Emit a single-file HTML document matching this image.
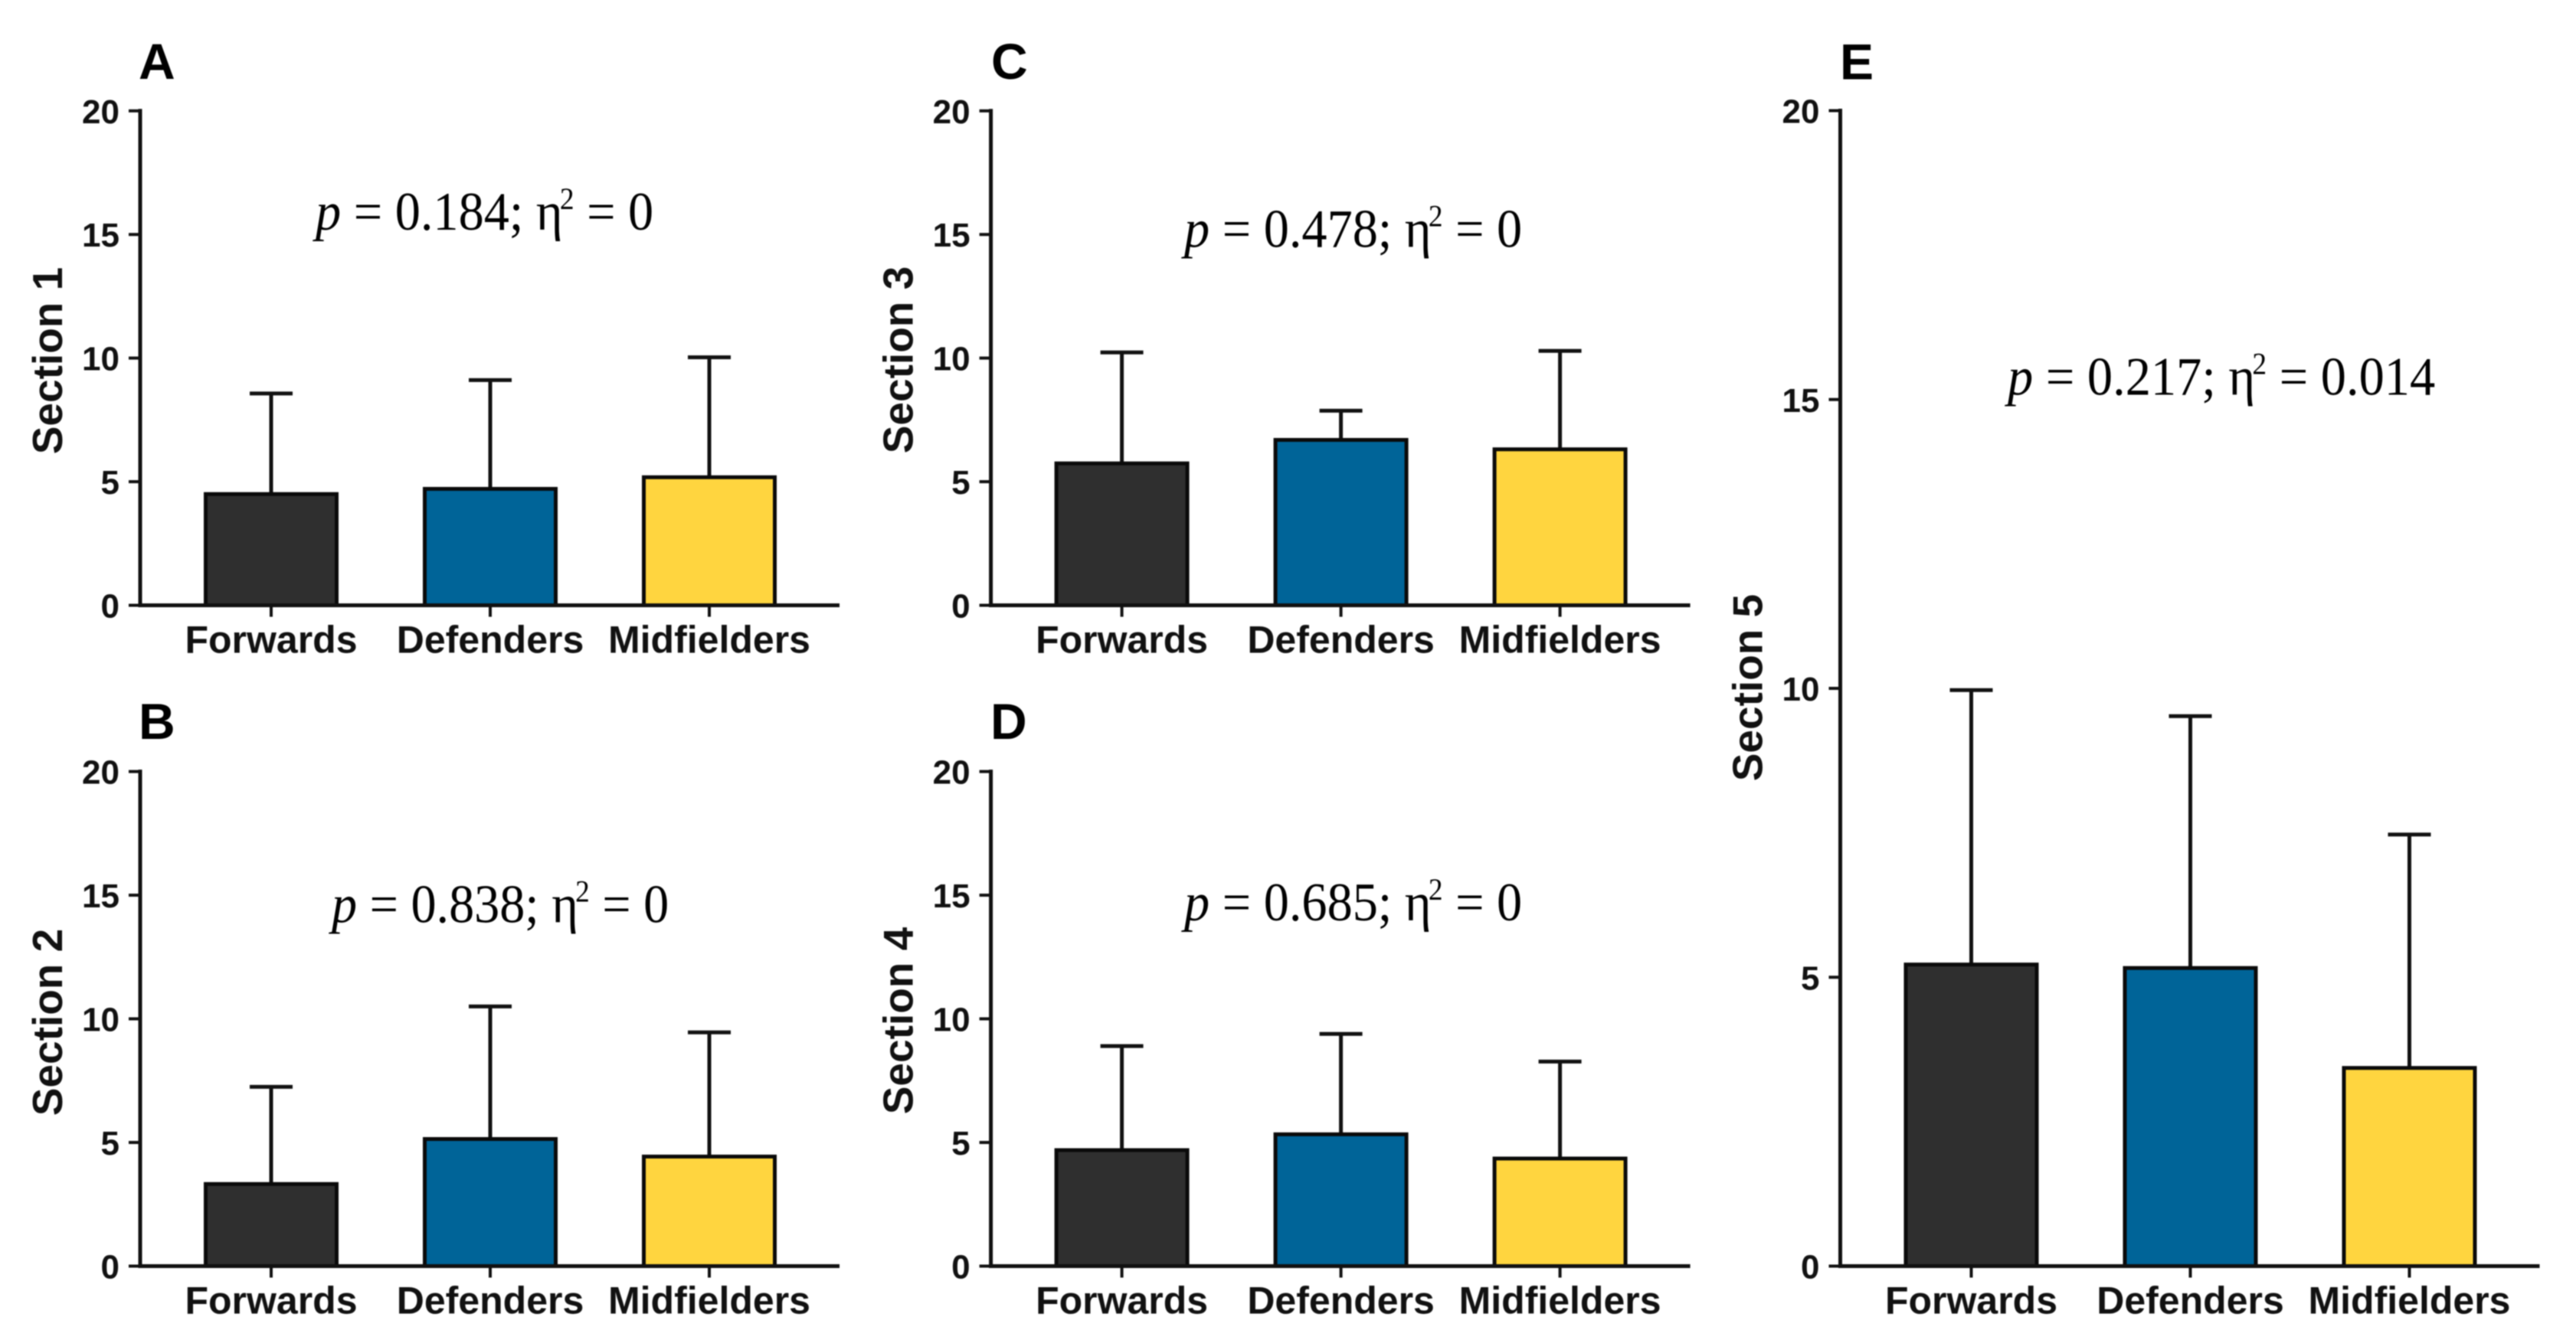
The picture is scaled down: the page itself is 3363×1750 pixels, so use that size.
<!DOCTYPE html>
<html lang="en">
<head>
<meta charset="utf-8">
<title>Section scores by playing position</title>
<style>
  html, body { margin: 0; padding: 0; background: #fff; }
  #figure { display: block; width: 3363px; height: 1750px; filter: blur(0.7px); }
  .tick-label { font: bold 44px "Liberation Sans", Arial, sans-serif; fill: #111; text-anchor: end; }
  .cat-label { font: bold 50px "Liberation Sans", Arial, sans-serif; fill: #111; text-anchor: middle; }
  .y-title { font: bold 55px "Liberation Sans", Arial, sans-serif; fill: #111; text-anchor: middle; }
  .panel-letter { font: bold 66px "Liberation Sans", Arial, sans-serif; fill: #000; }
  .stat-note { font: 71px "Liberation Serif", serif; fill: #000; }
</style>
</head>
<body>
<svg id="figure" xmlns="http://www.w3.org/2000/svg" width="3363" height="1750" viewBox="0 0 3363 1750"></svg>
<script>
// ---- chart data ----
const categories = ['Forwards', 'Defenders', 'Midfielders'];
const yTicks = [0, 5, 10, 15, 20];
const yMax = 20;
const barColors = ['#2f2f2f', '#006498', '#ffd53f'];

const section1Means = [4.5, 4.71, 5.18];
const section1Upper = [8.57, 9.11, 10.03];
const section2Means = [3.32, 5.14, 4.43];
const section2Upper = [7.25, 10.5, 9.45];
const section3Means = [5.74, 6.69, 6.31];
const section3Upper = [10.23, 7.87, 10.29];
const section4Means = [4.69, 5.33, 4.35];
const section4Upper = [8.9, 9.39, 8.27];
const section5Means = [5.22, 5.16, 3.43];
const section5Upper = [9.97, 9.52, 7.47];

// ---- drawing ----
const NS = 'http://www.w3.org/2000/svg';
const svg = document.getElementById('figure');
const INK = '#111';

function addLine(parent, name, x1, y1, x2, y2, width) {
  const l = document.createElementNS(NS, 'line');
  
  
  l.setAttribute('x1', x1);
  l.setAttribute('y1', y1);
  l.setAttribute('x2', x2);
  l.setAttribute('y2', y2);
  l.setAttribute('stroke', INK);
  l.setAttribute('stroke-width', width);
  parent.appendChild(l);
  return l;
}

function addText(parent, name, cls, x, y, content) {
  const t = document.createElementNS(NS, 'text');
  
  
  t.setAttribute('class', cls);
  t.setAttribute('x', x);
  t.setAttribute('y', y);
  t.textContent = content;
  parent.appendChild(t);
  return t;
}

function addSpan(parent, content, italic, sup) {
  const s = document.createElementNS(NS, 'tspan');
  s.textContent = content;
  if (italic) s.setAttribute('font-style', 'italic');
  if (sup) {
    s.setAttribute('font-size', '40');
    s.setAttribute('dy', '-27');
    s.setAttribute('dx', '-4');
  }
  parent.appendChild(s);
  return s;
}

function drawPanel(cfg) {
  const g = document.createElementNS(NS, 'g');
  
  
  svg.appendChild(g);

  // axis functions
  const yScale = v => cfg.y0 - (v / yMax) * (cfg.y0 - cfg.y20);
  const xScale = i => cfg.axisX + 171 + 286 * i;
  const barW = 171, capW = 56;

  // bars and error bars
  categories.forEach((cat, i) => {
    const cx = xScale(i);
    const key = cat.toLowerCase();
    addLine(g, 'error-stem-' + key, cx, yScale(cfg.means[i]), cx, yScale(cfg.upper[i]), 5);
    addLine(g, 'error-cap-' + key, cx - capW / 2, yScale(cfg.upper[i]), cx + capW / 2, yScale(cfg.upper[i]), 5);
    const r = document.createElementNS(NS, 'rect');
    
    
    r.setAttribute('x', cx - barW / 2);
    r.setAttribute('y', yScale(cfg.means[i]));
    r.setAttribute('width', barW);
    r.setAttribute('height', yScale(0) - yScale(cfg.means[i]));
    r.setAttribute('fill', barColors[i]);
    r.setAttribute('stroke', '#0a0a0a');
    r.setAttribute('stroke-width', 5);
    g.appendChild(r);
    addLine(g, 'x-tick-' + key, cx, yScale(0), cx, yScale(0) + 15, 4);
    addText(g, 'x-label-' + key, 'cat-label', cx, cfg.y0 + 62, cat);
  });

  // axes
  addLine(g, 'y-axis', cfg.axisX, cfg.y20 - 2.5, cfg.axisX, cfg.y0 + 2.5, 5);
  addLine(g, 'x-axis', cfg.axisX - 2.5, cfg.y0, cfg.axisX + 913, cfg.y0, 5);
  yTicks.forEach(v => {
    addLine(g, 'y-tick-' + v, cfg.axisX - 15, yScale(v), cfg.axisX, yScale(v), 4);
    addText(g, 'y-tick-label-' + v, 'tick-label', cfg.axisX - 27, yScale(v) + 16, String(v));
  });

  // titles
  addText(g, 'panel-letter-' + cfg.letter.toLowerCase(), 'panel-letter', cfg.letterX, cfg.letterY, cfg.letter);
  const title = addText(g, 'y-axis-title', 'y-title', 0, 0, cfg.title);
  title.setAttribute('transform', 'translate(' + (cfg.axisX - 102) + ',' + cfg.titleY + ') rotate(-90)');

  // statistics note
  const note = addText(g, 'statistics-note', 'stat-note', 0, 0, '');
  addSpan(note, 'p', true, false);
  addSpan(note, ' = ' + cfg.p + '; η', false, false);
  addSpan(note, '2', false, true);
  const rest = addSpan(note, ' = ' + cfg.eta, false, false);
  rest.setAttribute('dy', '27');
  const natural = note.getComputedTextLength();
  note.setAttribute('transform', 'translate(' + cfg.noteX + ',' + cfg.noteY + ') scale(' + (cfg.noteW / natural) + ',1)');
}

drawPanel({ letter: 'A', title: 'Section 1', means: section1Means, upper: section1Upper, p: '0.184', eta: '0',
  axisX: 183, y20: 144.8, y0: 790.5, letterX: 181, letterY: 103, titleY: 471, noteX: 412, noteY: 300, noteW: 445 });
drawPanel({ letter: 'B', title: 'Section 2', means: section2Means, upper: section2Upper, p: '0.838', eta: '0',
  axisX: 183, y20: 1007.6, y0: 1653.5, letterX: 181, letterY: 965, titleY: 1335, noteX: 433, noteY: 1204.6, noteW: 444 });
drawPanel({ letter: 'C', title: 'Section 3', means: section3Means, upper: section3Upper, p: '0.478', eta: '0',
  axisX: 1293.6, y20: 144.8, y0: 790.5, letterX: 1294, letterY: 103, titleY: 470, noteX: 1546, noteY: 322.7, noteW: 445 });
drawPanel({ letter: 'D', title: 'Section 4', means: section4Means, upper: section4Upper, p: '0.685', eta: '0',
  axisX: 1293.6, y20: 1007.6, y0: 1653.5, letterX: 1293, letterY: 965, titleY: 1333, noteX: 1546, noteY: 1202, noteW: 445 });
drawPanel({ letter: 'E', title: 'Section 5', means: section5Means, upper: section5Upper, p: '0.217', eta: '0.014',
  axisX: 2402.5, y20: 144.5, y0: 1653.5, letterX: 2402, letterY: 103.5, titleY: 898, noteX: 2621, noteY: 515.5, noteW: 562 });
</script>
</body>
</html>
